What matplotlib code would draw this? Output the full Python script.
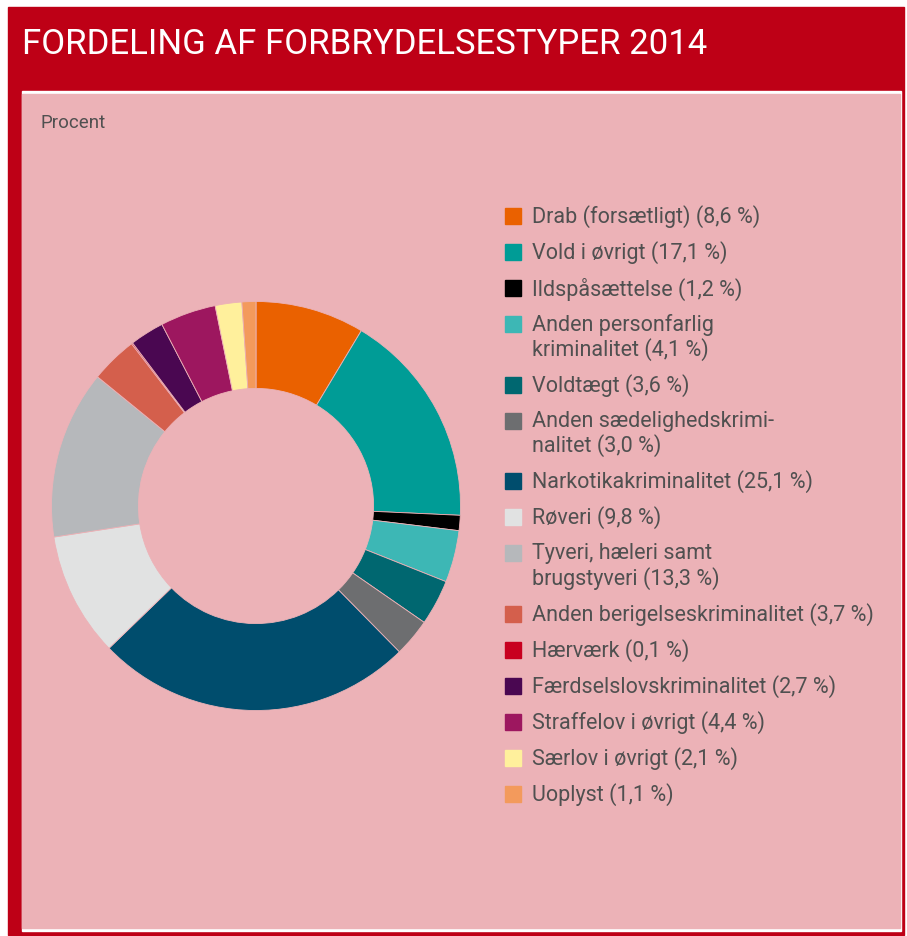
import matplotlib.pyplot as plt
from matplotlib.patches import Rectangle

# Data
labels = ["Drab (forsætligt) (8,6 %)", "Vold i øvrigt (17,1 %)", "Ildspåsættelse (1,2 %)",
          "Anden personfarlig\nkriminalitet (4,1 %)", "Voldtægt (3,6 %)",
          "Anden sædelighedskrimi-\nnalitet (3,0 %)", "Narkotikakriminalitet (25,1 %)",
          "Røveri (9,8 %)", "Tyveri, hæleri samt\nbrugstyveri (13,3 %)",
          "Anden berigelseskriminalitet (3,7 %)", "Hærværk (0,1 %)",
          "Færdselslovskriminalitet (2,7 %)", "Straffelov i øvrigt (4,4 %)",
          "Særlov i øvrigt (2,1 %)", "Uoplyst (1,1 %)"]
values = [8.6, 17.1, 1.2, 4.1, 3.6, 3.0, 25.1, 9.8, 13.3, 3.7, 0.1, 2.7, 4.4, 2.1, 1.1]
colors = ["#EA6100", "#009C96", "#000000", "#3DB7B5", "#006770", "#6D6E70", "#004D6D",
          "#E1E2E2", "#B6B8BB", "#D45F4C", "#C8001F", "#4A0751", "#9D175F", "#FFF09C", "#F39A5C"]

W, H = 907, 937
RED = "#BE0016"
PINK = "#ECB2B7"
TXT = "#505050"
fam = ["Roboto", "DejaVu Sans"]

fig = plt.figure(figsize=(W / 100, H / 100), dpi=100, facecolor="white")


def px_rect(x0, y0, x1, y1, color, z=-5):
    fig.patches.append(Rectangle((x0 / W, 1 - y1 / H), (x1 - x0) / W, (y1 - y0) / H,
                                 transform=fig.transFigure, color=color, zorder=z))


# frame and panel
px_rect(8, 8, 904, 936, RED, -5)
px_rect(22, 92, 901, 932, "white", -4)
px_rect(22, 95, 900, 929, PINK, -3)

fig.text(22 / W, 1 - 44 / H, "FORDELING AF FORBRYDELSESTYPER 2014", color="white",
         fontsize=25, va="center", ha="left", family=fam)
fig.text(40 / W, 1 - 123 / H, "Procent", color=TXT, fontsize=13.5, va="center",
         ha="left", family=fam)

# donut
cx, cy, r = 256, 507, 204.5
ax = fig.add_axes([(cx - r) / W, 1 - (cy + r) / H, 2 * r / W, 2 * r / H])
ax.set_zorder(1)
ax.pie(values, colors=colors, startangle=90, counterclock=False, radius=1,
       wedgeprops=dict(width=0.425, edgecolor=PINK, linewidth=0.6))
ax.set_xlim(-1, 1)
ax.set_ylim(-1, 1)
ax.set_aspect("equal")
ax.axis("off")

# legend
y = 217
line_h = 24.5
gap = 11.5
for lab, col in zip(labels, colors):
    fig.patches.append(Rectangle((505 / W, 1 - (y + 8) / H), 16 / W, 16 / H,
                                 transform=fig.transFigure, color=col, zorder=2))
    n = lab.count("\n") + 1
    for k, part in enumerate(lab.split("\n")):
        fig.text(532 / W, 1 - (y + k * line_h) / H, part, color=TXT, fontsize=15.5,
                 va="center", ha="left", family=fam)
    y += n * line_h + gap

fig.savefig("out.png", dpi=100, facecolor="white")
